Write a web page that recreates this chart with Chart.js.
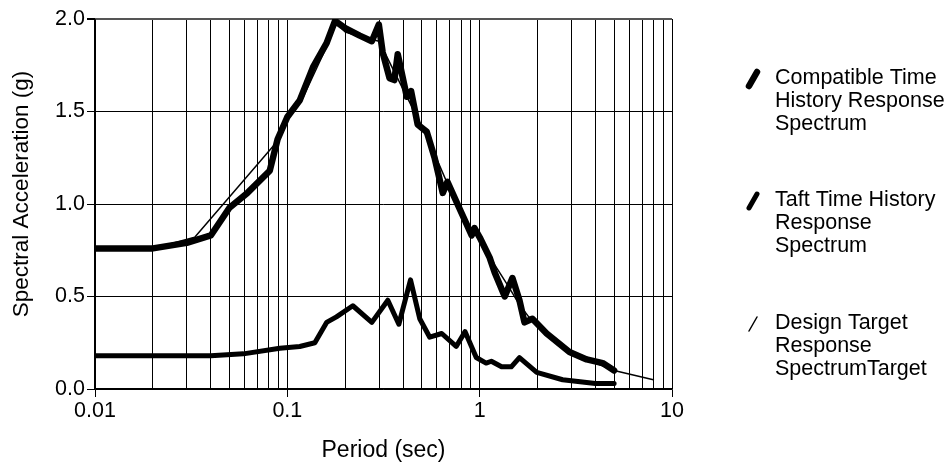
<!DOCTYPE html>
<html>
<head>
<meta charset="utf-8">
<script src="https://cdn.jsdelivr.net/npm/chart.js@4/dist/chart.umd.min.js"></script>
<style>
  html, body { margin: 0; padding: 0; background: #fff; }
  #wrap { width: 952px; height: 466px; }
</style>
</head>
<body>
<div id="wrap"><canvas id="myChart" width="952" height="466"></canvas></div>
<script>
// periods (sec) and spectral accelerations (g)
const compatPeriod = [0.01, 0.02, 0.03, 0.04, 0.05, 0.062, 0.081, 0.089, 0.1, 0.116, 0.136, 0.16, 0.177, 0.2, 0.238, 0.275, 0.299, 0.313, 0.34, 0.36, 0.375, 0.418, 0.44, 0.476, 0.531, 0.583, 0.643, 0.68, 0.806, 0.909, 0.94, 1.0, 1.127, 1.197, 1.35, 1.48, 1.61, 1.71, 1.88, 2.23, 2.93, 3.6, 4.36, 5.0];
const compatSa = [0.76, 0.76, 0.79, 0.83, 0.98, 1.06, 1.18, 1.35, 1.47, 1.56, 1.74, 1.87, 1.99, 1.95, 1.91, 1.88, 1.97, 1.82, 1.68, 1.67, 1.81, 1.58, 1.61, 1.43, 1.39, 1.25, 1.06, 1.12, 0.95, 0.83, 0.87, 0.82, 0.71, 0.63, 0.50, 0.60, 0.48, 0.36, 0.38, 0.30, 0.20, 0.16, 0.14, 0.10];

const taftPeriod = [0.01, 0.02, 0.04, 0.059, 0.0914, 0.116, 0.139, 0.16, 0.18, 0.219, 0.275, 0.333, 0.38, 0.437, 0.488, 0.55, 0.635, 0.755, 0.84, 0.96, 1.08, 1.15, 1.30, 1.46, 1.61, 1.98, 2.7, 4.0, 5.0];
const taftSa = [0.18, 0.18, 0.18, 0.19, 0.22, 0.23, 0.25, 0.36, 0.39, 0.45, 0.36, 0.48, 0.35, 0.59, 0.38, 0.28, 0.30, 0.23, 0.31, 0.17, 0.14, 0.15, 0.12, 0.12, 0.17, 0.09, 0.05, 0.03, 0.03];

const targetPeriod = [0.01, 0.02, 0.033, 0.089, 0.1, 0.12, 0.16, 0.18, 0.2, 0.25, 0.3, 0.35, 0.4, 0.5, 0.6, 0.7, 0.8, 0.9, 1.0, 1.2, 1.4, 1.6, 1.8, 2.0, 2.5, 3.0, 4.0, 5.0, 8.0];
const targetSa = [0.76, 0.76, 0.82, 1.34, 1.46, 1.57, 1.85, 1.98, 1.93, 1.90, 1.88, 1.74, 1.62, 1.42, 1.24, 1.08, 0.96, 0.86, 0.82, 0.67, 0.56, 0.46, 0.39, 0.36, 0.26, 0.20, 0.14, 0.10, 0.05];

const seriesLabels = [
    ['Compatible Time', 'History Response', 'Spectrum'],
    ['Taft Time History', 'Response', 'Spectrum'],
    ['Design Target', 'Response', 'SpectrumTarget']
];

const xMajors = [0.01, 0.1, 1, 10];
const xTickLabels = ['0.01', '0.1', '1', '10'];
const yTicks = [0, 0.5, 1.0, 1.5, 2.0];
const yTitle = 'Spectral Acceleration (g)';

function toPoints(px, py) {
    return px.map(function(p, i){ return {x: p, y: py[i]}; });
}

const FONT = 'Arial, "Liberation Sans", sans-serif';

// legend on the right + y axis title (drawn by hand to sit like the original)
const sideLegend = {
    id: 'sideLegend',
    afterDraw: function(chart) {
        const ctx = chart.ctx;
        const blockTop = [78, 200, 323];
        ctx.save();
        chart.data.datasets.forEach(function(ds, i) {
            const y0 = blockTop[i];
            ctx.strokeStyle = '#000';
            ctx.lineWidth = ds.borderWidth;
            ctx.lineCap = 'round';
            ctx.beginPath();
            ctx.moveTo(749, y0 + 8);
            ctx.lineTo(757, y0 - 6);
            ctx.stroke();
            ctx.fillStyle = '#000';
            ctx.font = '21.5px ' + FONT;
            ctx.textBaseline = 'middle';
            ctx.textAlign = 'left';
            seriesLabels[i].forEach(function(line, k) {
                ctx.fillText(line, 775, y0 + k * 23);
            });
        });

        ctx.translate(22, 194);
        ctx.rotate(-Math.PI / 2);
        ctx.font = '22.5px ' + FONT;
        ctx.textAlign = 'center';
        ctx.textBaseline = 'middle';
        ctx.fillStyle = '#000';
        ctx.fillText(yTitle, 0, 0);
        ctx.restore();
    }
};

const ctx = document.getElementById('myChart');
new Chart(ctx, {
    type: 'line',
    data: {
        datasets: [
            {
                label: seriesLabels[0].join(' '),
                data: toPoints(compatPeriod, compatSa),
                borderColor: '#000',
                borderWidth: 6.5,
                order: 3
            },
            {
                label: seriesLabels[1].join(' '),
                data: toPoints(taftPeriod, taftSa),
                borderColor: '#000',
                borderWidth: 5,
                order: 2
            },
            {
                label: seriesLabels[2].join(' '),
                data: toPoints(targetPeriod, targetSa),
                borderColor: '#000',
                borderWidth: 1.5,
                order: 1
            }
        ]
    },
    options: {
        responsive: false,
        animation: false,
        layout: { padding: { top: 19, right: 280, left: 0, bottom: 0 } },
        elements: {
            point: { radius: 0 },
            line: { tension: 0, borderJoinStyle: 'round', borderCapStyle: 'round', fill: false }
        },
        plugins: {
            legend: { display: false },
            tooltip: { enabled: false }
        },
        scales: {
            x: {
                type: 'logarithmic',
                min: 0.01,
                max: 10,
                afterBuildTicks: function(scale) {
                    const ticks = [];
                    for (let d = 0; d < 3; d++) {
                        for (let m = 1; m <= 9; m++) {
                            ticks.push({ value: m * xMajors[d], major: m === 1 });
                        }
                    }
                    ticks.push({ value: 10, major: true });
                    scale.ticks = ticks;
                },
                afterFit: function(scale) { scale.height = 77; },
                ticks: {
                    autoSkip: false,
                    maxRotation: 0,
                    padding: 1,
                    color: '#000',
                    font: { family: FONT, size: 21.5 },
                    callback: function(value, index, ticks) {
                        const t = ticks[index];
                        if (!t.major) return '';
                        const k = xMajors.findIndex(function(v){ return Math.abs(v - t.value) / v < 1e-6; });
                        return k >= 0 ? xTickLabels[k] : '';
                    }
                },
                grid: {
                    color: '#000',
                    lineWidth: 1,
                    tickLength: 8,
                    tickColor: function(c) { return c.tick && c.tick.major ? '#000' : 'rgba(0,0,0,0)'; }
                },
                border: { color: '#000', width: 1.5 },
                title: {
                    display: true,
                    text: 'Period (sec)',
                    color: '#000',
                    font: { family: FONT, size: 23 },
                    padding: { top: 0, bottom: 2 }
                }
            },
            y: {
                min: 0,
                max: 2,
                afterBuildTicks: function(scale) {
                    scale.ticks = yTicks.map(function(v){ return { value: v }; });
                },
                afterFit: function(scale) { scale.width = 95; },
                ticks: {
                    padding: 2,
                    color: '#000',
                    font: { family: FONT, size: 21.5 },
                    callback: function(v) { return Number(v).toFixed(1); }
                },
                grid: {
                    color: function(c) { return c.tick && c.tick.value === 2 ? '#555' : '#000'; },
                    lineWidth: function(c) { return c.tick && c.tick.value === 2 ? 2 : 1; },
                    tickLength: 8,
                    tickColor: '#000'
                },
                border: { color: '#000', width: 1.5 }
            }
        }
    },
    plugins: [sideLegend]
});
</script>
</body>
</html>
